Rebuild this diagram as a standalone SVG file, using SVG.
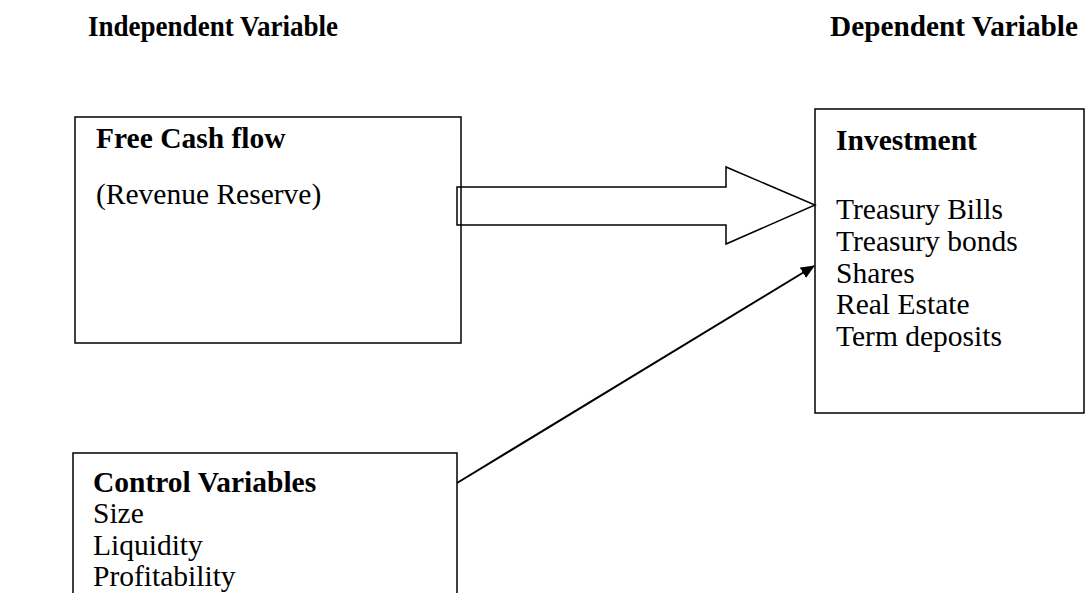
<svg xmlns="http://www.w3.org/2000/svg" width="1086" height="593" viewBox="0 0 1086 593">
<style>
text{font-family:"Liberation Serif","Times New Roman",serif;font-size:29.5px;fill:#000}
.b{font-weight:bold}
.h{font-size:29px}
.box{fill:none;stroke:#000;stroke-width:1.5}
.con{fill:none;stroke:#000;stroke-width:2}
</style>
<defs>
<marker id="ah" markerWidth="14" markerHeight="12" refX="13" refY="6" orient="auto" markerUnits="userSpaceOnUse" viewBox="0 0 14 12">
<path d="M0,0 L14,6 L0,12 z" fill="#000"/>
</marker>
</defs>
<rect width="1086" height="593" fill="#fff"/>
<g id="headers">
<text class="b h" x="88" y="36" textLength="250" lengthAdjust="spacingAndGlyphs">Independent Variable</text>
<text class="b h" x="830" y="36" textLength="248" lengthAdjust="spacingAndGlyphs">Dependent Variable</text>
</g>
<g id="free-cash-flow">
<rect class="box" x="75" y="117" width="386" height="226"/>
<text class="b" x="96" y="148">Free Cash flow</text>
<text x="96" y="204">(Revenue Reserve)</text>
</g>
<g id="investment">
<rect class="box" x="815" y="109" width="269" height="304"/>
<text class="b" x="836" y="150">Investment</text>
<text x="836" y="219">Treasury Bills</text>
<text x="836" y="251">Treasury bonds</text>
<text x="836" y="283">Shares</text>
<text x="836" y="314">Real Estate</text>
<text x="836" y="346">Term deposits</text>
</g>
<g id="control-variables">
<path class="box" d="M73,600 V453 H457 V600"/>
<text class="b" x="93" y="492">Control Variables</text>
<text x="93" y="523">Size</text>
<text x="93" y="555">Liquidity</text>
<text x="93" y="586">Profitability</text>
</g>
<g id="connectors">
<polygon class="box" fill="#fff" points="457,187 726,187 726,167 815,205 726,244 726,225 457,225"/>
<line class="con" x1="457" y1="483" x2="814" y2="266" marker-end="url(#ah)"/>
</g>
</svg>
